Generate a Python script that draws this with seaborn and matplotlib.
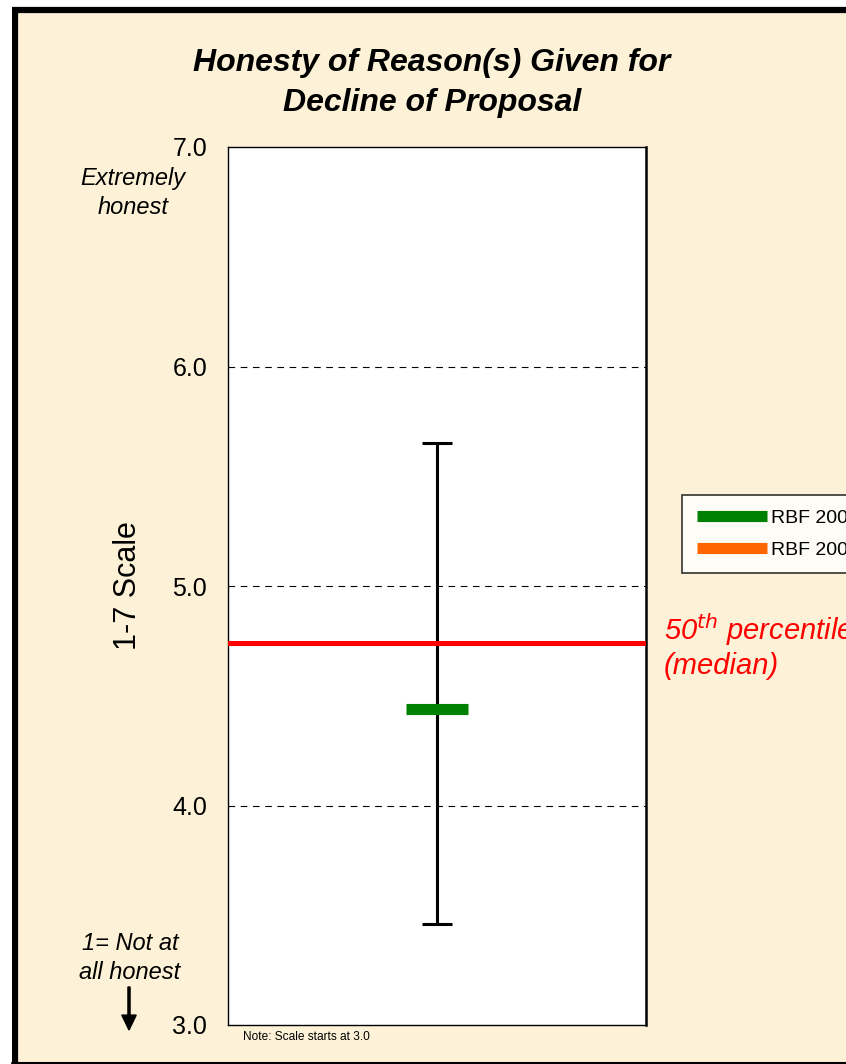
import matplotlib
matplotlib.use("Agg")
import matplotlib.pyplot as plt
import seaborn as sns
import pandas as pd
from matplotlib.lines import Line2D
from matplotlib.patches import Rectangle, FancyArrow

# ---- data ----
groups = ["RBF 2008"]
means = [4.44]
upper = [5.65]
lower = [3.46]
median_value = 4.74
legend_labels = ["RBF 2008", "RBF 2007"]
yticks = [3.0, 4.0, 5.0, 6.0, 7.0]
grid_levels = [4.0, 5.0, 6.0]

sns.set_theme(style="white")
plt.rcParams["font.family"] = ["Liberation Sans", "DejaVu Sans"]
plt.rcParams["text.color"] = "black"
plt.rcParams["ytick.color"] = "black"
plt.rcParams["axes.labelcolor"] = "black"

W, H = 846, 1064
fig = plt.figure(figsize=(W / 100, H / 100), dpi=100)
bg = "#FDF2D7"
fig.patch.set_facecolor("white")

# background panel with border
fig.patches.append(Rectangle((15 / W, 1 - 1075 / H), (W + 50) / W, (1075 - 10) / H,
                             transform=fig.transFigure, facecolor=bg,
                             edgecolor="black", linewidth=4.5, zorder=0))
fig.patches.append(Rectangle((0, 0), 12 / W, 1, transform=fig.transFigure,
                             facecolor="white", edgecolor="none", zorder=0.5))
fig.lines.append(Line2D([12 / W, 1], [1 - 1062.5 / H] * 2, transform=fig.transFigure,
                        color="black", linewidth=1.5, zorder=0.6))

ax = fig.add_axes([228 / W, 1 - 1025 / H, (646 - 228) / W, (1025 - 147) / H])
ax.set_zorder(2)
ax.set_facecolor("white")

df = pd.DataFrame({"group": groups, "mean": means, "upper": upper, "lower": lower})
df["x"] = 0.0

# error bar (range)
yerr = [[m - l for m, l in zip(df["mean"], df["lower"])],
        [u - m for m, u in zip(df["mean"], df["upper"])]]
ax.errorbar(df["x"], df["mean"], yerr=yerr, fmt="none", ecolor="black",
            elinewidth=2.2, capsize=10.8, capthick=2.2, zorder=3)

# median line
ax.axhline(median_value, color="#FF0000", linewidth=3.6, zorder=4)

# mean marker
sns.scatterplot(data=df, x="x", y="mean", marker="_", s=1936, linewidth=8,
                color="#008000", ax=ax, zorder=5, legend=False)

for g in grid_levels:
    ax.axhline(g, color="black", linewidth=0.8, linestyle=(0, (6, 5)), zorder=1)

ax.set_xlim(-1, 1)
ax.set_ylim(3.0, 7.0)
ax.set_xticks([])
ax.set_yticks(yticks)
ax.set_yticklabels([f"{t:.1f}" for t in yticks], fontsize=18)
ax.tick_params(axis="y", direction="in", length=4, width=1, color="black", pad=15)
ax.set_xlabel("")
ax.set_ylabel("")
for s in ax.spines.values():
    s.set_color("black")
    s.set_linewidth(1.0)
ax.spines["right"].set_linewidth(1.8)

fig.text(128 / W, 1 - 586 / H, "1-7 Scale", rotation=90, ha="center", va="center",
         fontsize=22)

# titles / annotations
fig.text(432 / W, 1 - 63 / H, "Honesty of Reason(s) Given for", ha="center", va="center",
         fontsize=23, fontweight="bold", fontstyle="italic")
fig.text(432 / W, 1 - 103 / H, "Decline of Proposal", ha="center", va="center",
         fontsize=23, fontweight="bold", fontstyle="italic")
fig.text(133 / W, 1 - 193 / H, "Extremely\nhonest", ha="center", va="center",
         fontsize=17, fontstyle="italic", linespacing=1.32)
fig.text(130 / W, 1 - 958 / H, "1= Not at\nall honest", ha="center", va="center",
         fontsize=17, fontstyle="italic", linespacing=1.35)
fig.patches.append(FancyArrow(
    129 / W, 1 - 987 / H, 0, -(1030 - 987) / H, width=0.0025, head_width=0.017,
    head_length=0.014, length_includes_head=True, transform=fig.transFigure,
    color="black", zorder=3))
fig.text(243 / W, 1 - 1037 / H, "Note: Scale starts at 3.0", ha="left", va="center",
         fontsize=8.6)
fig.text(664 / W, 1 - 630 / H, r"50$^{th}$ percentile", ha="left", va="center",
         fontsize=21, fontstyle="italic", color="#FF0000")
fig.text(664 / W, 1 - 666 / H, "(median)", ha="left", va="center",
         fontsize=21, fontstyle="italic", color="#FF0000")

# legend
handles = [Line2D([0], [0], color="#008000", linewidth=8, solid_capstyle="butt"),
           Line2D([0], [0], color="#FF6600", linewidth=8, solid_capstyle="butt")]
leg = fig.legend(handles, legend_labels, loc="upper left",
                 bbox_to_anchor=(682 / W, 1 - 495 / H), fontsize=14,
                 frameon=True, fancybox=False, handlelength=3.6, handletextpad=0.25,
                 borderpad=0.75, labelspacing=0.72, borderaxespad=0)
leg.get_frame().set_edgecolor("black")
leg.get_frame().set_linewidth(1.2)
leg.get_frame().set_facecolor("white")
leg.set_zorder(3)

fig.savefig("out.png", dpi=100, facecolor=fig.get_facecolor())
